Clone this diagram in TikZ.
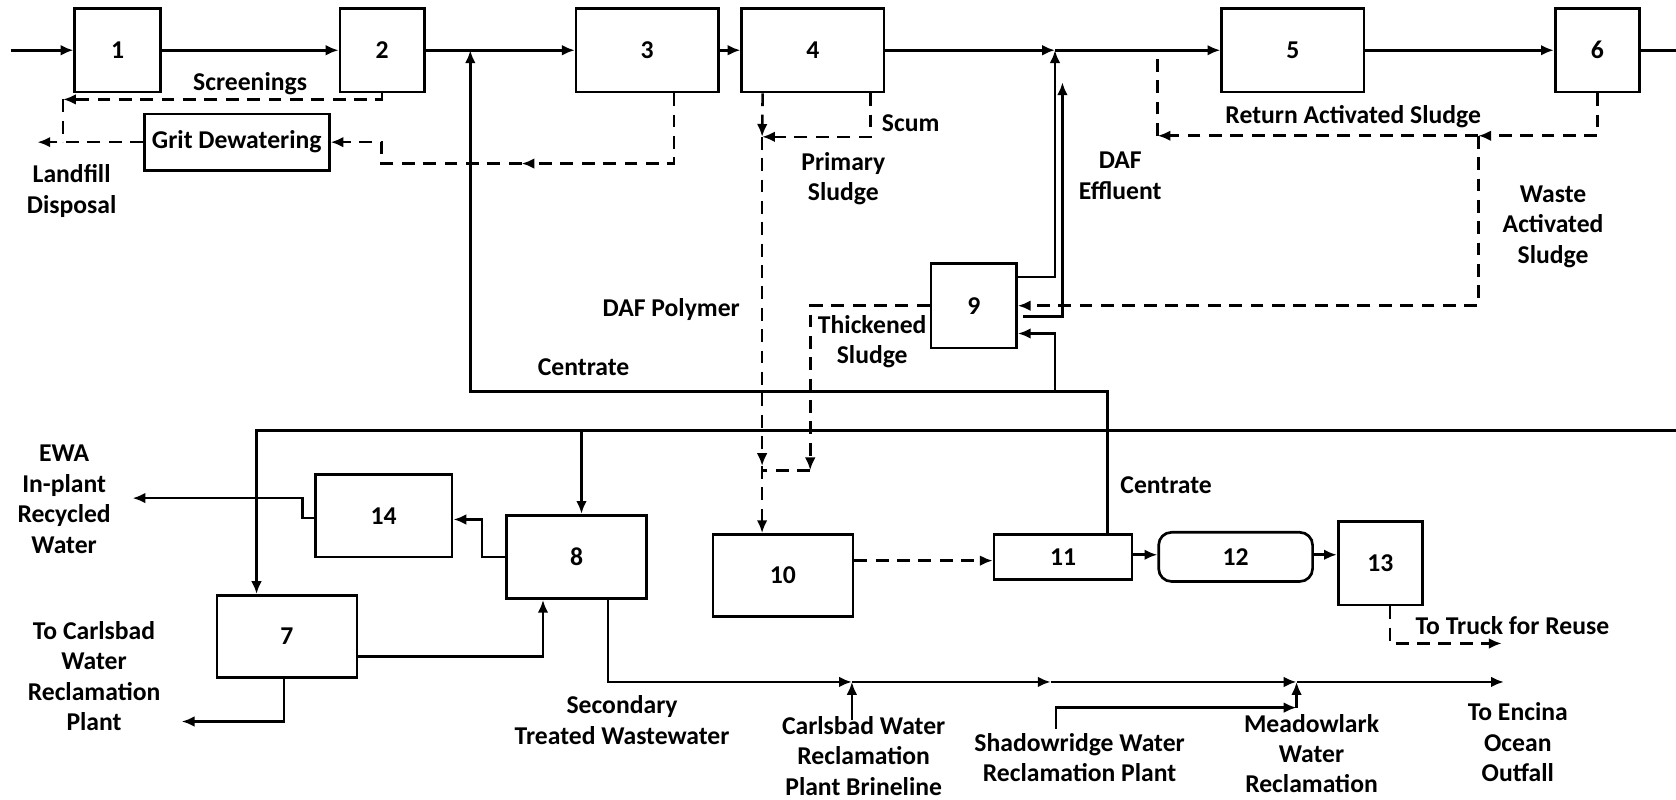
\documentclass[tikz,border=0pt]{standalone}
\usepackage{fontspec}
\setmainfont{Carlito}
\usetikzlibrary{arrows.meta,positioning}

\begin{document}
\begin{tikzpicture}[x=1pt, y=-1pt, line width=2.4pt, >={Latex[length=12pt,width=10pt]},
    unit/.style={draw, line width=2.5pt, inner sep=0pt, font=\bfseries\fontsize{24}{28.5}\selectfont},
    lbl/.style={align=center, inner sep=0pt, font=\bfseries\fontsize{24}{28.5}\selectfont},
    sludge/.style={dash pattern=on 12pt off 8pt}]
  \fill[white] (0,0) rectangle (1568,748);
  \useasboundingbox (0,0) rectangle (1568,748);
  % process units
  \node[unit, minimum width=80pt, minimum height=78pt] (b1) at (110,47) {1};
  \node[unit, minimum width=79pt, minimum height=78pt] (b2) at (357.5,47) {2};
  \node[unit, minimum width=133pt, minimum height=78pt] (b3) at (605.5,47) {3};
  \node[unit, minimum width=133pt, minimum height=78pt] (b4) at (760.5,47) {4};
  \node[unit, minimum width=133pt, minimum height=78pt] (b5) at (1209.5,47) {5};
  \node[unit, minimum width=79pt, minimum height=78pt] (b6) at (1494.5,47) {6};
  \node[unit, minimum width=173pt, minimum height=53pt] (grit) at (221.5,133) {Grit Dewatering};
  \node[unit, minimum width=80pt, minimum height=79pt] (b9) at (911,286) {9};
  \node[unit, minimum width=128pt, minimum height=77pt] (b14) at (359,482.5) {14};
  \node[unit, minimum width=131pt, minimum height=78pt] (b8) at (539.5,521) {8};
  \node[unit, minimum width=131pt, minimum height=77pt] (b7) at (268.5,595.5) {7};
  \node[unit, minimum width=131pt, minimum height=77pt] (b10) at (732.5,538.5) {10};
  \node[unit, minimum width=129pt, minimum height=42pt] (b11) at (994.5,521) {11};
  \node[unit, minimum width=144pt, minimum height=46pt, rounded corners=12pt] (b12) at (1156,521) {12};
  \node[unit, minimum width=79pt, minimum height=78pt] (b13) at (1291.5,527) {13};
  % junctions
  \coordinate (in) at (10,47);
  \coordinate (out) at (1568,47);
  \coordinate (cin) at (440,47);
  \coordinate (daf) at (987,47);
  \coordinate (daf2) at (994,77);
  \coordinate (scr) at (59,93);
  \coordinate (ldf) at (35,133);
  \coordinate (g1) at (357,153);
  \coordinate (g2) at (488,153);
  \coordinate (ps1) at (713,128);
  \coordinate (ps2) at (713,436);
  \coordinate (ts1) at (758,440);
  \coordinate (ras0) at (1083,47);
  \coordinate (ras) at (1083,127);
  \coordinate (was) at (1383,127);
  \coordinate (c2) at (987,366);
  \coordinate (c3) at (440,366);
  \coordinate (r0) at (1568,403);
  \coordinate (r1) at (240,403);
  \coordinate (r2) at (544,403);
  \coordinate (k1) at (451,486);
  \coordinate (w1) at (283,466);
  \coordinate (ewa) at (124,466);
  \coordinate (cb) at (170,675);
  \coordinate (m1) at (797,638);
  \coordinate (m2) at (983,638);
  \coordinate (m3) at (1213,638);
  \coordinate (enc) at (1407,638);
  \coordinate (bl) at (797,674);
  \coordinate (sh0) at (988,682);
  \coordinate (sh1) at (1213,662);
  \coordinate (tr) at (1405,602);
  % main train
  \draw[->] (in) -- (b1.west);
  \draw[->] (b1) -- (b2);
  \draw[->] (b2) -- (b3);
  \draw[->] (b3) -- (b4);
  \draw[->] (b4.east) -- (daf);
  \draw[->] (daf) -- (b5.west);
  \draw[->] (b5) -- (b6);
  \draw (b6.east) -- (out);
  % screenings and grit
  \draw[sludge,->] (b2.south) |- (scr);
  \draw[sludge] (scr) -- (scr |- grit.west);
  \draw[sludge,->] (grit.west) -- (ldf);
  \draw[sludge,->] ([xshift=25pt]b3.south) |- (g2);
  \draw[sludge,->] (g2) -- (g1) |- (grit.east);
  % primary sludge, scum, thickened sludge
  \draw[sludge,->] ([xshift=-47pt]b4.south) -- (ps1);
  \draw[sludge,->] ([xshift=54pt]b4.south) |- (ps1);
  \draw[sludge,->] (ps1) -- (ps2);
  \draw[sludge,->] (ps2) -- (ps2 |- b10.north);
  \draw[sludge,->] (b9.west) -| (ts1);
  \draw[sludge] (ts1) -- (ps2 |- ts1);
  % DAF effluent
  \draw[->] ([yshift=27pt]b9.east) -| (daf);
  \draw[->] ([shift={(5pt,-10pt)}]b9.east) -| (daf2);
  % return and waste activated sludge
  \draw[sludge,->] (b6.south) |- (was);
  \draw[sludge,->] (was) -- (ras);
  \draw[sludge] (ras) -- (ras0);
  \draw[sludge,->] (was) |- (b9.east);
  % centrate
  \draw[->] ([xshift=41.5pt]b11.north) |- (c3) -- (cin);
  \draw[->] (c2) |- ([yshift=-26pt]b9.east);
  % recycled water
  \draw[->] (r0) -- (r1) -- (r1 |- b7.north);
  \draw[->] (r2) -- (r2 |- b8.north);
  \draw[->] (b8.west) -| (k1) -- (k1 -| b14.east);
  \draw[->] ([yshift=-2pt]b14.west) -| (w1) -- (ewa);
  \draw[->] ([yshift=-18.5pt]b7.east) -| ([xshift=-31.5pt]b8.south);
  \draw[->] ([xshift=-3pt]b7.south) |- (cb);
  % outfall
  \draw[->] ([xshift=29.5pt]b8.south) |- (m1);
  \draw[->] (m1) -- (m2);
  \draw[->] (m2) -- (m3);
  \draw[->] (m3) -- (enc);
  \draw[->] (bl) -- (m1);
  \draw[->] (sh0) |- (sh1);
  \draw[->] (sh1) -- (m3);
  % solids handling
  \draw[sludge,->] ([yshift=14pt]b10.east) -- ([yshift=14pt]b10.east -| b11.west);
  \draw[sludge,->] ([yshift=2pt]b11.east) -- ([yshift=2pt]b11.east -| b12.west);
  \draw[sludge,->] ([yshift=2pt]b12.east) -- ([yshift=2pt]b12.east -| b13.west);
  \draw[sludge,->] ([xshift=9pt]b13.south) |- (tr);
  % labels
  \node[lbl] (lscr) at (234,78) {Screenings};
  \node[lbl] (lldf) at (67,178.5) {Landfill\\Disposal};
  \node[lbl] (lscum) at (852,115) {Scum};
  \node[lbl] (lprim) at (789,167) {Primary\\Sludge};
  \node[lbl] (ldafe) at (1048,164.5) {DAF\\Effluent};
  \node[lbl] (lras) at (1266,109) {Return Activated Sludge};
  \node[lbl] (lwas) at (1453,212) {Waste\\Activated\\Sludge};
  \node[lbl] (lpoly) at (628,290) {DAF Polymer};
  \node[lbl] (lthk) at (816,319.5) {Thickened\\Sludge};
  \node[lbl] (lcen1) at (546,343.5) {Centrate};
  \node[lbl] (lcen2) at (1091,453.7) {Centrate};
  \node[lbl] (lewa) at (60,467) {EWA\\In-plant\\Recycled\\Water};
  \node[lbl] (lcwr) at (88,632.5) {To Carlsbad\\Water\\Reclamation\\Plant};
  \node[lbl] (lsec) at (582,673.5) {Secondary\\Treated Wastewater};
  \node[lbl] (lbrine) at (808,707) {Carlsbad Water\\Reclamation\\Plant Brineline};
  \node[lbl] (lshad) at (1010,709) {Shadowridge Water\\Reclamation Plant};
  \node[lbl] (lmead) at (1227,705) {Meadowlark\\Water\\Reclamation};
  \node[lbl] (lenc) at (1420,694.5) {To Encina\\Ocean\\Outfall};
  \node[lbl] (ltruck) at (1415,585) {To Truck for Reuse};
\end{tikzpicture}
\end{document}
